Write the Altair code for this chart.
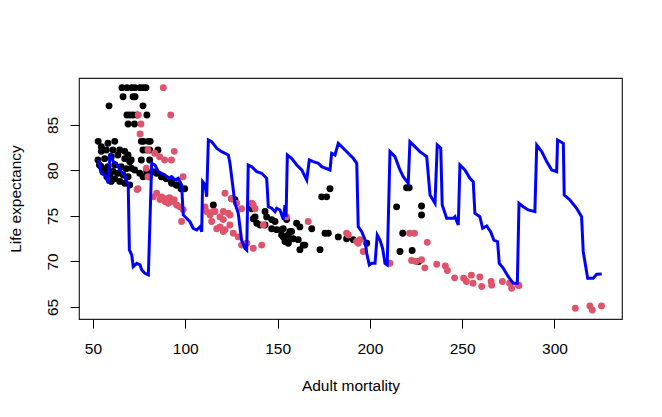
import altair as alt
import pandas as pd

# ---- data ----
black_x = [65.7, 68.4, 71.1, 72.7, 75.5, 77.1, 78.7,
           66.3, 71.7, 72.8,
           58.7, 77.1,
           68.4, 70.0, 71.7, 73.8, 79.2,
           69.0, 72.5,
           52.8, 58.1, 61.8, 76.2, 77.3, 80.0, 81.0,
           54.5, 54.5, 57.2, 60.8, 64.5, 67.2, 77.1, 79.0, 80.7, 85.2,
           69.0, 52.7, 56.3, 59.9, 63.5, 67.2, 69.9, 70.7, 76.2, 80.7,
           54.5, 58.1, 61.8, 65.3, 68.0, 56.3, 60.8, 63.5, 53.5, 55.5, 57.5,
           59.0, 61.8, 64.5, 67.2, 69.9, 66.3, 69.0, 59.9,
           70.7, 72.6, 75.3, 77.1, 79.1, 80.5, 82.5, 84.3, 87.0, 89.7, 92.4, 92.6,
           95.1, 95.3, 97.7, 99.7,
           115.2, 125.1, 126.9, 136.0, 136.8, 138.7, 143.2, 144.1, 143.2, 146.8,
           148.6, 152.2, 154.9, 153.1, 155.8, 156.7, 160.3, 162.1, 161.2, 164.8,
           162.1, 168.5, 173.0, 175.7, 177.5, 173.9, 176.6, 178.4, 182.9, 187.4,
           191.0, 198.3, 214.5, 216.3, 219.9, 221.3, 217.8, 222.9, 228.0, 228.0,
           226.4, 140.5, 146.8, 153.1, 152.2, 155.8, 157.6, 158.5, 154.0, 155.8,
           163.9, 149.5, 137.8]
black_y = [89.1, 89.1, 89.1, 89.1, 89.1, 89.1, 89.1,
           88.1, 88.1, 88.1,
           87.1, 87.1,
           86.1, 86.1, 86.1, 86.1, 86.1,
           85.1, 85.1,
           83.2, 83.0, 83.2, 83.2, 83.2, 83.2, 83.2,
           82.6, 82.1, 82.25, 82.25, 82.25, 82.1, 82.25, 82.25, 82.25, 82.25,
           81.7, 81.15, 81.3, 81.5, 81.7, 81.3, 80.97, 81.15, 81.15, 81.15,
           80.4, 80.4, 80.6, 80.4, 80.2, 80.05, 79.9, 79.7, 80.6, 79.8, 79.3,
           79.5, 79.1, 78.8, 78.6, 78.4, 79.5, 79.3, 78.8,
           80.24, 80.05, 79.7, 79.3, 79.87, 79.3, 79.87, 79.7, 79.3, 79.1, 78.8, 78.6,
           78.4, 78.4, 78.0, 78.0,
           76.2, 76.9, 76.8, 75.8, 74.7, 74.2, 75.5, 74.9, 74.0, 73.6,
           74.4, 73.5, 74.6, 72.7, 72.2, 73.3, 74.2, 73.8, 72.4, 71.8,
           71.3, 73.6, 71.3, 73.1, 73.1, 77.1, 77.1, 78.0, 72.7, 72.5,
           72.4, 72.0, 76.0, 71.1, 78.1, 78.1, 73.1, 71.2, 76.1, 75.1,
           70.0, 74.0, 74.6, 73.6, 72.9, 72.9, 73.3, 72.5, 72.2, 72.0,
           71.8, 73.5, 74.9]

red_x = [88.1, 74.5, 92.1, 76.0, 75.5, 94.0, 92.5,
         79.8, 83.4, 86.1, 88.8, 98.8, 78.9, 79.8, 74.4, 73.9,
         84.5, 87.2, 89.9, 90.8, 93.5, 95.3, 97.1, 98.9, 98.0, 82.7, 86.3, 89.0, 91.5, 94.0,
         110.7, 111.6, 113.4, 116.1, 118.8, 121.5, 123.3, 120.6, 125.1, 127.8,
         130.5, 136.0, 137.8, 118.8, 121.5, 124.2, 126.0, 128.7, 130.5, 133.3,
         136.8, 141.4, 142.3, 114.3, 117.0, 120.6, 115.2, 120.6, 124.2, 136.8,
         154.9, 166.6, 187.4, 188.3, 192.8, 194.6, 193.7, 196.4, 210.9,
         221.5, 224.2, 231.1, 222.6, 225.0, 228.0, 229.8, 236.2, 240.9, 242.0,
         245.9, 250.8, 252.3, 255.0, 255.9, 259.6, 260.6, 265.7, 266.0, 271.8,
         275.7, 276.8, 280.4, 280.8,
         311.3, 319.2, 320.5, 325.5]
red_y = [89.1, 86.1, 86.1, 85.1, 84.0, 82.1, 81.15,
         82.25, 81.9, 81.5, 81.15, 79.3, 80.24, 79.3, 78.0, 77.9,
         77.5, 77.1, 76.9, 76.4, 76.6, 76.2, 76.0, 75.7, 74.4, 77.1, 76.8, 76.6, 77.0, 76.8,
         76.0, 75.5, 75.1, 75.5, 74.9, 77.5, 75.3, 74.6, 76.9, 76.4,
         75.8, 76.4, 75.8, 73.8, 73.5, 74.0, 73.1, 72.7, 71.8, 72.0,
         71.45, 71.8, 74.0, 74.4, 73.6, 73.3, 75.5, 75.5, 75.1, 76.2,
         74.9, 74.4, 73.1, 72.9, 72.2, 72.4, 72.0, 71.1, 69.8,
         73.1, 73.1, 72.1, 70.1, 70.0, 70.2, 69.3, 69.7, 69.5, 69.0,
         68.2, 68.15, 67.8, 68.5, 67.6, 68.3, 67.25, 67.8, 67.4, 67.8,
         67.6, 67.05, 67.4, 67.35,
         64.86, 65.1, 64.67, 65.12]

line_x = [52.9, 54.2, 56.5, 58.3, 59.2, 61.0, 62.8, 64.6, 66.4, 68.3, 69.1, 69.7,
          71.0, 71.8, 73.7, 75.5, 76.4, 78.2, 80.0, 81.8, 83.6, 85.4, 87.2, 89.0,
          90.8, 92.6, 94.4, 96.2, 98.0, 98.9, 102.5, 104.3, 106.2, 108.0, 108.9,
          109.4, 110.7, 111.6, 112.5, 114.3, 117.0, 119.7, 123.3, 124.2, 126.9,
          128.7, 129.6, 130.5, 132.3, 133.3, 134.1, 136.0, 138.7, 141.4, 144.1,
          145.0, 146.8, 148.6, 149.5, 151.3, 153.1, 154.0, 154.6, 155.3, 157.6,
          160.4, 163.1, 165.8, 167.2, 169.3, 172.1, 173.9, 178.4, 179.3, 181.1,
          182.9, 185.6, 188.3, 191.0, 192.9, 193.7, 195.6, 197.4, 198.3, 199.7,
          201.0, 202.8, 204.0, 205.5, 206.9, 208.2, 209.4, 210.9, 213.6, 216.3,
          218.1, 220.8, 221.7, 224.4, 227.1, 230.8, 232.6, 235.3, 236.5, 238.4,
          239.2, 241.6, 245.2, 246.1, 247.9, 248.8, 251.5, 254.2, 256.0, 256.9,
          259.6, 261.1, 263.3, 265.4, 267.2, 269.2, 270.1, 272.3, 275.0, 277.7,
          279.9, 280.8, 283.1, 285.8, 289.4, 290.4, 293.1, 295.8, 298.5, 301.2,
          301.7, 304.8, 305.3, 308.4, 312.0, 314.7, 315.6, 318.0, 321.0, 322.9,
          325.6]
line_y = [81.15, 79.87, 79.51, 78.59, 81.89, 80.97, 80.79, 80.05, 79.69, 78.77, 78.41, 71.26,
          70.71, 69.43, 69.80, 69.62, 69.07, 68.70, 68.52, 80.79, 80.60, 79.87, 79.69, 79.51,
          79.14, 79.32, 78.96, 79.14, 78.41, 75.11, 74.37, 73.65, 73.46, 73.82, 73.27,
          78.77, 78.41, 77.12, 83.35, 83.16, 82.44, 82.07, 81.70, 80.79, 76.40,
          75.30, 73.82, 72.36, 71.45, 71.26, 80.60, 80.42, 79.87, 79.69, 79.14,
          76.02, 75.85, 75.47, 75.85, 75.66, 74.60, 76.20, 74.90, 81.70, 81.34,
          80.60, 80.05, 78.96, 81.15, 80.97, 80.79, 80.42, 80.05, 81.89, 81.70,
          82.99, 82.44, 81.89, 81.34, 80.79, 73.82, 73.27, 72.36, 70.90, 69.62,
          69.80, 69.80, 72.91, 72.36, 71.45, 69.80, 69.62, 82.07, 81.52, 80.05,
          79.32, 78.59, 83.16, 82.62, 82.07, 81.52, 77.31, 76.40, 82.80, 82.44,
          76.21, 74.75, 74.75, 74.92, 74.01, 80.60, 80.05, 79.14, 78.77, 75.30,
          74.92, 73.65, 73.90, 73.27, 72.36, 72.18, 69.80, 69.25, 68.33, 67.60,
          67.60, 76.40, 76.02, 75.66, 75.47, 82.80, 82.07, 80.97, 80.05, 79.87,
          83.35, 82.99, 77.31, 76.76, 75.85, 74.92, 71.08, 68.15, 68.15, 68.59,
          68.63]

x_ticks = [50, 100, 150, 200, 250, 300]
y_ticks = [65, 70, 75, 80, 85]

FONT = "Liberation Sans"

df_black = pd.DataFrame({"x": black_x, "y": black_y})
df_red = pd.DataFrame({"x": red_x, "y": red_y})
df_line = pd.DataFrame({"x": line_x, "y": line_y, "i": list(range(len(line_x)))})

xscale = alt.Scale(domain=[42.42, 336.6], nice=False, zero=False)
yscale = alt.Scale(domain=[63.68, 90.16], nice=False, zero=False)

xaxis = alt.Axis(values=x_ticks, title="Adult mortality", grid=False, domain=False,
                 tickSize=9, tickColor="black", labelPadding=13, labelFontSize=15.5,
                 labelFont=FONT, labelColor="black", titleFont=FONT, titleFontSize=15.5,
                 titleFontWeight="normal", titleColor="black", titleX=271.5, titleY=66,
                 titleAlign="center", titleBaseline="middle", labelFlush=False)
yaxis = alt.Axis(values=y_ticks, title="Life expectancy", grid=False, domain=False,
                 tickSize=9, tickColor="black", labelPadding=10, labelFontSize=15.5,
                 labelFont=FONT, labelColor="black", labelAngle=270, labelAlign="center",
                 labelBaseline="bottom", titleFont=FONT, titleFontSize=15.5,
                 titleFontWeight="normal", titleColor="black", titleX=-64, titleY=120.5,
                 titleAngle=270, titleAlign="center", titleBaseline="middle", labelFlush=False)

base_x = alt.X("x:Q", scale=xscale, axis=xaxis)
base_y = alt.Y("y:Q", scale=yscale, axis=yaxis)

black = alt.Chart(df_black).mark_circle(size=48, color="black", opacity=1).encode(x=base_x, y=base_y)
red = alt.Chart(df_red).mark_circle(size=48, color="#DF536B", opacity=1).encode(x=base_x, y=base_y)
line = alt.Chart(df_line).mark_line(color="#0000FF", strokeWidth=3).encode(
    x=base_x, y=base_y, order="i:Q")

chart = alt.layer(black, red, line).properties(
    width=543, height=241,
    background="white",
    autosize=alt.AutoSizeParams(type="none"),
    padding={"left": 71, "top": 70, "right": 30, "bottom": 80},
).configure_view(stroke="#222222", strokeWidth=1.2)

chart.save("out.html", embed_options={"renderer": "svg", "actions": False})
